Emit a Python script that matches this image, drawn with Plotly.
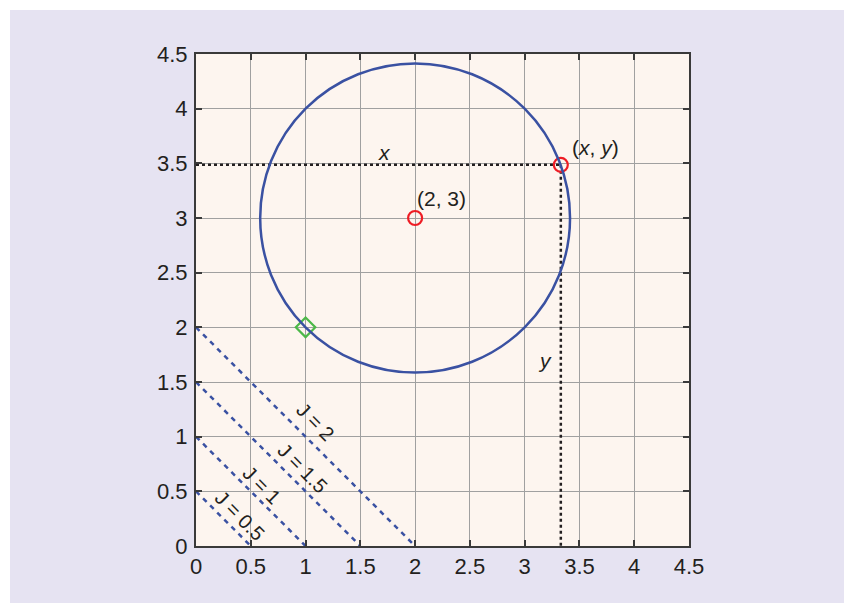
import plotly.graph_objects as go

# ---- data ----
center = [2, 3]
radius = 1.4142
point_xy = [3.33, 3.486]
start_point = [1, 2]
J_values = [0.5, 1, 1.5, 2]
J_label_x = [0.40, 0.60, 0.97, 1.09]
J_label_y = [0.27, 0.56, 0.71, 1.13]
J_labels = ["J = 0.5", "J = 1", "J = 1.5", "J = 2"]
tick_vals = [0, 0.5, 1, 1.5, 2, 2.5, 3, 3.5, 4, 4.5]
tick_text = ["0", "0.5", "1", "1.5", "2", "2.5", "3", "3.5", "4", "4.5"]

W, H = 844, 603
ML, MR, MT, MB = 196, 155, 54, 57
PW, PH = W - ML - MR, H - MT - MB

blue = "#3a51a2"
dark = "#231f20"
lav = "#e6e3f2"
font = "Liberation Sans, Arial, sans-serif"

fig = go.Figure()

# J iso-lines
for J in J_values:
    fig.add_trace(go.Scatter(x=[0, J], y=[J, 0], mode="lines",
                             line=dict(color=blue, width=2.5, dash="5px,5px"),
                             hoverinfo="skip", showlegend=False))

# dotted projection lines
fig.add_trace(go.Scatter(x=[0, point_xy[0]], y=[point_xy[1], point_xy[1]], mode="lines",
                         line=dict(color=dark, width=2.5, dash="3px,3px"), showlegend=False))
fig.add_trace(go.Scatter(x=[point_xy[0], point_xy[0]], y=[point_xy[1], 0], mode="lines",
                         line=dict(color=dark, width=2.5, dash="3px,3px"), showlegend=False))

# circle
fig.add_shape(type="circle", xref="x", yref="y",
              x0=center[0] - radius, x1=center[0] + radius,
              y0=center[1] - radius, y1=center[1] + radius,
              line=dict(color=blue, width=2.5), layer="above")

# markers
fig.add_trace(go.Scatter(x=[center[0], point_xy[0]], y=[center[1], point_xy[1]], mode="markers",
                         marker=dict(symbol="circle-open", size=14, color="#ee1c24",
                                     line=dict(width=2.2, color="#ee1c24")),
                         showlegend=False, cliponaxis=False))
fig.add_trace(go.Scatter(x=[start_point[0]], y=[start_point[1]], mode="markers",
                         marker=dict(symbol="diamond-open", size=15, color="#4cb848",
                                     line=dict(width=2.2, color="#4cb848")),
                         showlegend=False, cliponaxis=False))

# labels
txtfont = dict(family=font, size=21, color=dark)
fig.add_annotation(x=center[0] + 0.0, y=center[1] + 0.18, text="(2, 3)", showarrow=False,
                   xanchor="left", font=txtfont)
fig.add_annotation(x=point_xy[0] + 0.08, y=point_xy[1] + 0.16, text="(<i>x</i>, <i>y</i>)",
                   showarrow=False, xanchor="left", font=txtfont)
fig.add_annotation(x=1.72, y=3.6, text="<i>x</i>", showarrow=False, font=txtfont)
fig.add_annotation(x=3.19, y=1.70, text="<i>y</i>", showarrow=False, font=txtfont)
for lx, ly, lt in zip(J_label_x, J_label_y, J_labels):
    fig.add_annotation(x=lx, y=ly, text=lt, showarrow=False, textangle=45,
                       font=dict(family=font, size=20, color=dark))

# white strips (top/left) to match reference framing
fig.add_shape(type="rect", xref="paper", yref="paper",
              x0=-ML / PW, x1=(W - ML) / PW, y0=1 + (MT - 10) / PH, y1=1 + MT / PH,
              fillcolor="white", line_width=0, layer="below")
fig.add_shape(type="rect", xref="paper", yref="paper",
              x0=-ML / PW, x1=-(ML - 10) / PW, y0=-MB / PH, y1=1 + MT / PH,
              fillcolor="white", line_width=0, layer="below")

axis_common = dict(range=[0, 4.5], tickvals=tick_vals, ticktext=tick_text,
                   showgrid=True, gridcolor="#a0a0a0", gridwidth=1,
                   showline=True, linecolor="#3a3a3a", linewidth=2, mirror="ticks",
                   ticks="inside", ticklen=6, tickwidth=1.5, tickcolor="#3a3a3a",
                   zeroline=False, tickfont=dict(family=font, size=22, color=dark),
                   fixedrange=True)

fig.update_layout(
    width=W, height=H,
    margin=dict(l=ML, r=MR, t=MT, b=MB),
    paper_bgcolor=lav,
    plot_bgcolor="#fdf5ef",
    xaxis=dict(axis_common, ticklabelstandoff=0),
    yaxis=dict(axis_common, ticklabelstandoff=2),
    showlegend=False,
    hovermode=False,
)

fig.write_html("out.html",
               config={"displayModeBar": False},
               post_script="document.body.style.margin='0';document.body.style.overflow='hidden';"
                           "document.body.style.background='%s';"
                           "document.documentElement.style.background='%s';" % (lav, lav))
